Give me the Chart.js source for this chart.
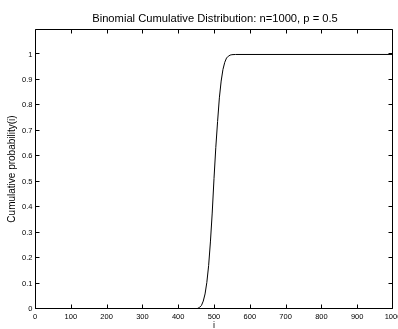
<!DOCTYPE html>
<html><head><meta charset="utf-8">
<script src="https://cdn.jsdelivr.net/npm/chart.js@4"></script>
<style>html,body{margin:0;padding:0;background:#fff;}#wrap{width:398px;height:329px;}</style>
</head><body><div id="wrap"><canvas id="c" width="398" height="329"></canvas></div>
<script>
const titleText = "Binomial Cumulative Distribution: n=1000, p = 0.5";
const xLabel = "i";
const yLabel = "Cumulative probability(i)";
const xValues = [0, 440, 450, 455, 460, 465, 470, 475, 480, 485, 490, 495, 500, 505, 510, 515, 520, 525, 530, 535, 540, 545, 550, 560, 1000];
const yValues = [0, 0.0001, 0.0009, 0.0026, 0.0069, 0.0141, 0.031, 0.0591, 0.1045, 0.1704, 0.2635, 0.377, 0.5126, 0.6339, 0.7365, 0.8296, 0.8955, 0.9409, 0.969, 0.9859, 0.9931, 0.9974, 0.9991, 0.9999, 1.0];
const xTicks = [0, 100, 200, 300, 400, 500, 600, 700, 800, 900, 1000];
const yTicks = [0, 0.1, 0.2, 0.3, 0.4, 0.5, 0.6, 0.7, 0.8, 0.9, 1];
const xTickLabels = ["0","100","200","300","400","500","600","700","800","900","1000"];
const yTickLabels = ["0","0.1","0.2","0.3","0.4","0.5","0.6","0.7","0.8","0.9","1"];

const FONT = '"Liberation Sans", Arial, Helvetica, sans-serif';

const axesPlugin = {
  id: 'matlabAxes',
  afterDraw(chart) {
    const ctx = chart.ctx;
    const a = chart.chartArea;
    const xs = chart.scales.x, ys = chart.scales.y;
    ctx.save();
    ctx.strokeStyle = '#000';
    ctx.lineWidth = 1;
    const L = Math.round(a.left) + 0.5, R = Math.round(a.right) - 0.5;
    const T = Math.round(a.top) + 0.5, B = Math.round(a.bottom) - 0.5;
    ctx.beginPath();
    ctx.rect(L, T, R - L, B - T);
    ctx.stroke();
    const tl = 4;
    const clampX = p => Math.min(R, Math.max(L, p));
    const clampY = p => Math.min(B, Math.max(T, p));
    ctx.beginPath();
    xTicks.forEach(v => {
      const px = clampX(Math.round(xs.getPixelForValue(v)) + 0.5);
      ctx.moveTo(px, B); ctx.lineTo(px, B - tl);
      ctx.moveTo(px, T); ctx.lineTo(px, T + tl);
    });
    yTicks.forEach(v => {
      const py = clampY(Math.round(ys.getPixelForValue(v)) - 0.5);
      ctx.moveTo(L, py); ctx.lineTo(L + tl, py);
      ctx.moveTo(R, py); ctx.lineTo(R - tl, py);
    });
    ctx.stroke();
    ctx.fillStyle = '#000';
    ctx.font = '7.5px ' + FONT;
    ctx.textAlign = 'center';
    ctx.textBaseline = 'top';
    xTicks.forEach((v, i) => {
      ctx.fillText(xTickLabels[i], xs.getPixelForValue(v), B + 5);
    });
    ctx.textAlign = 'right';
    ctx.textBaseline = 'middle';
    yTicks.forEach((v, i) => {
      ctx.fillText(yTickLabels[i], L - 3, ys.getPixelForValue(v));
    });
    ctx.font = '9px ' + FONT;
    ctx.textAlign = 'center';
    ctx.textBaseline = 'top';
    ctx.fillText(xLabel, (a.left + a.right) / 2, B + 13);
    ctx.save();
    ctx.font = '10px ' + FONT;
    ctx.translate(12, (a.top + a.bottom) / 2);
    ctx.rotate(-Math.PI / 2);
    ctx.textBaseline = 'middle';
    ctx.fillText(yLabel, 0, 0);
    ctx.restore();
    ctx.font = '11.2px ' + FONT;
    ctx.textBaseline = 'alphabetic';
    ctx.fillText(titleText, (a.left + a.right) / 2 + 1, 22);
    ctx.restore();
  }
};

new Chart(document.getElementById('c'), {
  type: 'line',
  data: {
    datasets: [{
      data: xValues.map((x, i) => ({x: x, y: yValues[i]})),
      borderColor: '#000',
      borderWidth: 1,
      pointRadius: 0,
      tension: 0,
      fill: false
    }]
  },
  options: {
    responsive: false,
    animation: false,
    devicePixelRatio: 1,
    layout: { padding: { left: 35, top: 29, right: 5, bottom: 20 } },
    plugins: { legend: { display: false }, tooltip: { enabled: false }, title: { display: false } },
    scales: {
      x: { type: 'linear', min: 0, max: 1000, display: false },
      y: { type: 'linear', min: 0, max: 1.1, display: false }
    }
  },
  plugins: [axesPlugin]
});
</script>
</body></html>
